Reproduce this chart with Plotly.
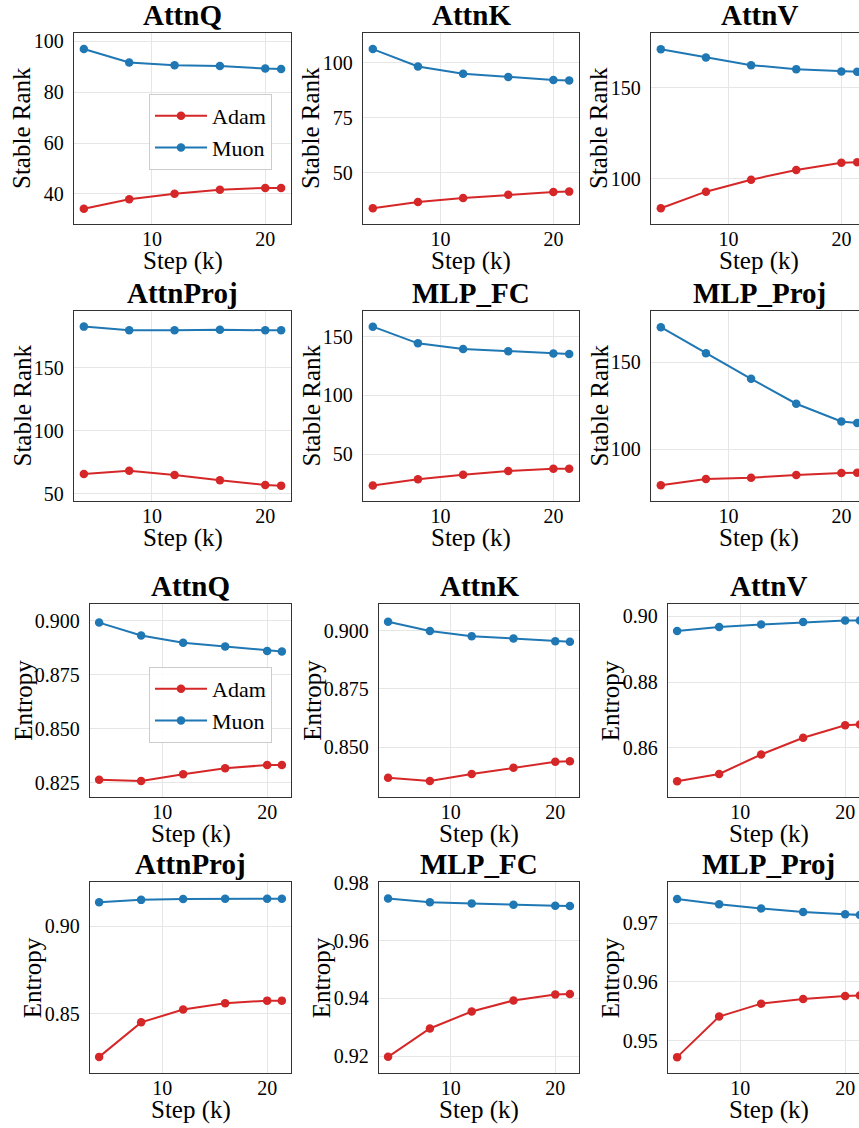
import plotly.graph_objects as go

W, H = 859, 1128
FONT = "Liberation Serif"
RED = "#d62728"
BLUE = "#1f77b4"

# ---------------- data ----------------
steps = [4, 8, 12, 16, 20, 21.4]
titles = ["AttnQ", "AttnK", "AttnV", "AttnProj", "MLP_FC", "MLP_Proj"]
series_names = ["Adam", "Muon"]
x_label = "Step (k)"
y_label_sr = "Stable Rank"
y_label_ent = "Entropy"
x_ticks = [10, 20]

sr_attnq_adam = [34.2, 37.9, 40.1, 41.7, 42.4, 42.4]
sr_attnq_muon = [97.0, 91.7, 90.6, 90.3, 89.3, 89.1]
sr_attnk_adam = [33.8, 36.7, 38.5, 40.0, 41.2, 41.4]
sr_attnk_muon = [106.1, 98.2, 94.9, 93.4, 92.1, 91.8]
sr_attnv_adam = [83.7, 92.8, 99.4, 104.8, 108.7, 109.0]
sr_attnv_muon = [171.3, 166.7, 162.5, 160.3, 159.0, 158.8]
sr_attnproj_adam = [65.9, 68.5, 65.1, 60.8, 57.1, 56.6]
sr_attnproj_muon = [182.8, 179.9, 179.9, 180.4, 179.9, 179.9]
sr_mlpfc_adam = [23.4, 28.8, 32.7, 35.8, 37.8, 37.8]
sr_mlpfc_muon = [158.5, 144.3, 139.5, 137.5, 135.6, 135.3]
sr_mlpproj_adam = [79.5, 83.1, 83.8, 85.4, 86.5, 86.7]
sr_mlpproj_muon = [170.0, 155.1, 140.5, 126.2, 116.0, 115.2]

ent_attnq_adam = [0.8264, 0.8258, 0.8289, 0.8317, 0.8332, 0.8332]
ent_attnq_muon = [0.8991, 0.8931, 0.8898, 0.8880, 0.8860, 0.8857]
ent_attnk_adam = [0.8369, 0.8355, 0.8385, 0.8412, 0.8437, 0.8440]
ent_attnk_muon = [0.9039, 0.8999, 0.8977, 0.8967, 0.8955, 0.8953]
ent_attnv_adam = [0.8499, 0.8521, 0.8580, 0.8631, 0.8669, 0.8671]
ent_attnv_muon = [0.8955, 0.8967, 0.8975, 0.8982, 0.8987, 0.8987]
ent_attnproj_adam = [0.8255, 0.8452, 0.8525, 0.8561, 0.8576, 0.8576]
ent_attnproj_muon = [0.9137, 0.9151, 0.9156, 0.9158, 0.9158, 0.9158]
ent_mlpfc_adam = [0.9198, 0.9296, 0.9355, 0.9393, 0.9414, 0.9415]
ent_mlpfc_muon = [0.9746, 0.9733, 0.9729, 0.9724, 0.9721, 0.9720]
ent_mlpproj_adam = [0.9472, 0.9541, 0.9563, 0.9571, 0.9576, 0.9577]
ent_mlpproj_muon = [0.9741, 0.9732, 0.9725, 0.9719, 0.9715, 0.9714]

sr_adam = [sr_attnq_adam, sr_attnk_adam, sr_attnv_adam, sr_attnproj_adam, sr_mlpfc_adam, sr_mlpproj_adam]
sr_muon = [sr_attnq_muon, sr_attnk_muon, sr_attnv_muon, sr_attnproj_muon, sr_mlpfc_muon, sr_mlpproj_muon]
ent_adam = [ent_attnq_adam, ent_attnk_adam, ent_attnv_adam, ent_attnproj_adam, ent_mlpfc_adam, ent_mlpproj_adam]
ent_muon = [ent_attnq_muon, ent_attnk_muon, ent_attnv_muon, ent_attnproj_muon, ent_mlpfc_muon, ent_mlpproj_muon]

# ---------------- layout config ----------------
X_LO, X_HI = 3.13, 22.27
# (left px, top px, bottom px, full width px)
sr_boxes = [(74, 33, 224, 217), (363, 33, 224, 216), (651, 33, 224, 216),
            (74, 311, 501, 217), (363, 311, 501, 216), (651, 311, 501, 216)]
ent_boxes = [(90, 604, 797, 201), (379, 604, 797, 200), (668, 604, 797, 201),
             (90, 882, 1073, 201), (379, 882, 1073, 200), (668, 882, 1073, 201)]
sr_yranges = [(28.2, 103.3), (26.7, 113.4), (75.0, 180.2), (44.4, 195.2), (10.3, 171.8), (70.5, 179.3)]
sr_dticks = [20, 25, 50, 50, 50, 50]
ent_yranges = [(0.8184, 0.9077), (0.8286, 0.9115), (0.8451, 0.9037),
               (0.8163, 0.9253), (0.9142, 0.9803), (0.9445, 0.9770)]
ent_dticks = [0.025, 0.025, 0.02, 0.05, 0.02, 0.01]
ent_formats = [".3f", ".3f", ".2f", ".2f", ".2f", ".2f"]

TICK_FS = 20
LABEL_FS = 25
TITLE_FS = 29
LEG_FS = 22

fig = go.Figure()
layout = dict(width=W, height=H, margin=dict(l=0, r=0, t=0, b=0, autoexpand=False),
              paper_bgcolor="white", plot_bgcolor="white",
              font=dict(family=FONT, color="black"), annotations=[])

panels = []
for k in range(6):
    panels.append(dict(box=sr_boxes[k], yr=sr_yranges[k], dtick=sr_dticks[k], fmt="d",
                       adam=sr_adam[k], muon=sr_muon[k], title=titles[k], ylab=y_label_sr,
                       col=k % 3))
for k in range(6):
    panels.append(dict(box=ent_boxes[k], yr=ent_yranges[k], dtick=ent_dticks[k], fmt=ent_formats[k],
                       adam=ent_adam[k], muon=ent_muon[k], title=titles[k], ylab=y_label_ent,
                       col=k % 3))


def label_width(txt, fs):
    w = 0
    for ch in txt:
        w += 0.25 if ch == "." else 0.5
    return w * fs


for i, p in enumerate(panels, start=1):
    l, t, b, fw = p["box"]
    ppu = fw / (X_HI - X_LO)
    r = l + fw
    x_hi = X_HI
    if r > W:
        r = W
        x_hi = X_LO + (W - l) / ppu
    suffix = "" if i == 1 else str(i)
    xa = dict(domain=[l / W, r / W], range=[X_LO, x_hi], anchor="y" + suffix,
              tickvals=x_ticks, showgrid=True, gridcolor="#e6e6e6", gridwidth=1,
              showline=True, linecolor="#333333", linewidth=1.3, mirror=True,
              ticks="outside", ticklen=0, ticklabelstandoff=-3, zeroline=False,
              automargin=False,
              tickfont=dict(size=TICK_FS, family=FONT, color="black"))
    ya = dict(domain=[1 - b / H, 1 - t / H], range=list(p["yr"]), anchor="x" + suffix,
              dtick=p["dtick"], tick0=0, tickformat=p["fmt"], showgrid=True, gridcolor="#e6e6e6",
              gridwidth=1, showline=True, linecolor="#333333", linewidth=1.3,
              mirror=(p["col"] != 2), ticks="outside", ticklen=0, ticklabelstandoff=5, zeroline=False,
              automargin=False,
              tickfont=dict(size=TICK_FS, family=FONT, color="black"))
    layout["xaxis" + suffix] = xa
    layout["yaxis" + suffix] = ya

    legend_name = "legend" if i == 1 else "legend2"
    show = i in (1, 7)
    for name, vals, color in ((series_names[0], p["adam"], RED), (series_names[1], p["muon"], BLUE)):
        fig.add_trace(go.Scatter(x=steps, y=vals, mode="lines+markers", name=name,
                                 line=dict(color=color, width=2),
                                 marker=dict(color=color, size=8.5),
                                 xaxis="x" + suffix, yaxis="y" + suffix,
                                 showlegend=show, legend=legend_name))

    cx = (l + fw / 2) / W
    layout["annotations"].append(dict(text="<b>" + p["title"] + "</b>", x=cx, y=1 - t / H,
                                      xref="paper", yref="paper", xanchor="center", yanchor="bottom",
                                      showarrow=False, font=dict(size=TITLE_FS, family=FONT, color="black")))
    layout["annotations"].append(dict(text=x_label, x=cx, y=1 - (b + 37) / H,
                                      xref="paper", yref="paper", xanchor="center", yanchor="middle",
                                      showarrow=False, font=dict(size=LABEL_FS, family=FONT, color="black")))
    # y label offset depends on tick label width
    tick_txt = format(p["yr"][1] // p["dtick"] * p["dtick"], p["fmt"]) if p["fmt"] != "d" else str(int(p["yr"][1] // p["dtick"] * p["dtick"]))
    off = label_width(tick_txt, 19) + 24
    layout["annotations"].append(dict(text=p["ylab"], x=(l - off) / W, y=1 - ((t + b) / 2) / H,
                                      xref="paper", yref="paper", xanchor="center", yanchor="middle",
                                      textangle=-90, showarrow=False,
                                      font=dict(size=LABEL_FS, family=FONT, color="black")))

leg_common = dict(xanchor="left", yanchor="top", bgcolor="rgba(255,255,255,0.85)",
                  bordercolor="#cccccc", borderwidth=1, itemwidth=52,
                  font=dict(size=LEG_FS, family=FONT, color="black"))
layout["legend"] = dict(x=149 / W, y=1 - 94 / H, **leg_common)
layout["legend2"] = dict(x=149 / W, y=1 - 667 / H, **leg_common)

fig.update_layout(**layout)
fig.write_html("out.html")
